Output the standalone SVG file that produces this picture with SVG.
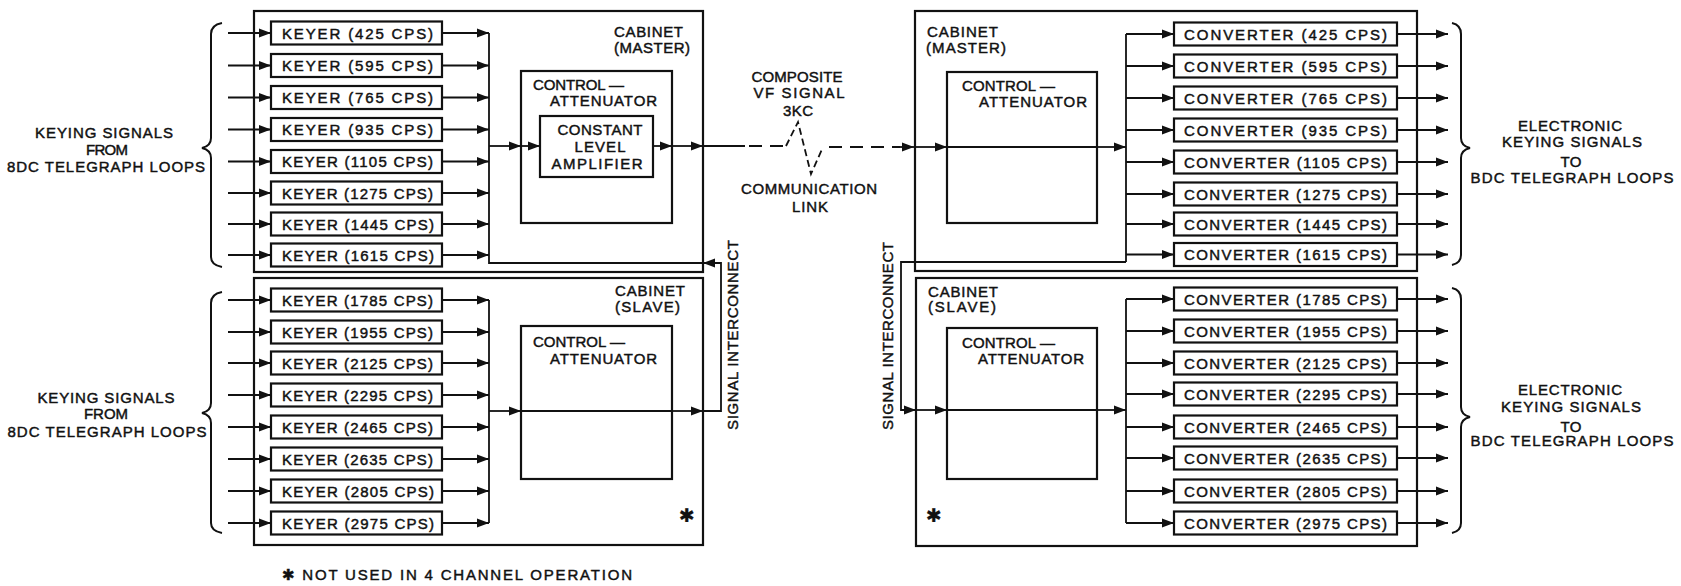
<svg xmlns="http://www.w3.org/2000/svg" width="1681" height="586" viewBox="0 0 1681 586">
<style>
text{font-family:"Liberation Sans","DejaVu Sans",sans-serif;font-size:15px;fill:#111;stroke:#111;stroke-width:0.45;}
.box{fill:#fff;stroke:#111;stroke-width:2.2;}
.cab{fill:none;stroke:#111;stroke-width:2.2;}
.ln{fill:none;stroke:#111;stroke-width:1.8;}
.ar{fill:none;stroke:#111;stroke-width:1.8;marker-end:url(#ah);}
.dash{fill:none;stroke:#111;stroke-width:1.8;stroke-dasharray:13 8;}
.wave{fill:none;stroke:#111;stroke-width:1.8;stroke-dasharray:7 4;}
.br{fill:none;stroke:#111;stroke-width:2;}
.m{text-anchor:middle;}
.ast{font-size:19px;stroke-width:0.2;}
</style>
<defs>
<marker id="ah" markerUnits="userSpaceOnUse" markerWidth="12" markerHeight="10" refX="12" refY="5" orient="auto">
<path d="M0,0.5 L12,5 L0,9.5 z" fill="#111"/>
</marker>
</defs>
<rect width="1681" height="586" fill="#fff"/>

<!-- cabinets -->
<g id="cabinet-left-master">
<rect class="cab" x="254" y="11" width="449" height="261"/>
<text x="614" y="37" textLength="69">CABINET</text>
<text x="614" y="53" textLength="76">(MASTER)</text>
</g>
<g id="cabinet-left-slave">
<rect class="cab" x="254" y="278" width="449" height="267"/>
<text x="615" y="296" textLength="70">CABINET</text>
<text x="615" y="312" textLength="65">(SLAVE)</text>
<text x="687" y="522" class="m ast">✱</text>
</g>
<g id="cabinet-right-master">
<rect class="cab" x="915" y="11" width="502" height="260"/>
<text x="927" y="37" textLength="71">CABINET</text>
<text x="926" y="53" textLength="80">(MASTER)</text>
</g>
<g id="cabinet-right-slave">
<rect class="cab" x="916" y="278" width="501" height="268"/>
<text x="928" y="297" textLength="70">CABINET</text>
<text x="928" y="312" textLength="68">(SLAVE)</text>
<text x="934" y="522" class="m ast">✱</text>
</g>

<!-- control attenuators -->
<g id="ca-left-master">
<rect class="box" x="521" y="71" width="151" height="152"/>
<text x="533" y="90" textLength="91">CONTROL —</text>
<text x="550" y="106" textLength="107">ATTENUATOR</text>
</g>
<g id="cla-left-master">
<rect class="box" x="540" y="116" width="113" height="61"/>
<text x="600" y="135" class="m" textLength="85">CONSTANT</text>
<text x="600" y="152" class="m" textLength="51">LEVEL</text>
<text x="597" y="169" class="m" textLength="91">AMPLIFIER</text>
</g>
<g id="ca-left-slave">
<rect class="box" x="521" y="326" width="151" height="153"/>
<text x="533" y="347" textLength="92">CONTROL —</text>
<text x="550" y="364" textLength="107">ATTENUATOR</text>
</g>
<g id="ca-right-master">
<rect class="box" x="947" y="72" width="150" height="151"/>
<text x="962" y="91" textLength="93">CONTROL —</text>
<text x="979" y="107" textLength="108">ATTENUATOR</text>
</g>
<g id="ca-right-slave">
<rect class="box" x="947" y="328" width="150" height="151"/>
<text x="962" y="348" textLength="93">CONTROL —</text>
<text x="978" y="364" textLength="106">ATTENUATOR</text>
</g>

<!-- keyers master -->
<g id="keyer-425"><rect class="box" x="271" y="21.5" width="171" height="23"/><text x="282" y="38.5" textLength="151">KEYER (425  CPS)</text></g>
<g id="keyer-595"><rect class="box" x="271" y="54" width="171" height="23"/><text x="282" y="71" textLength="151">KEYER (595  CPS)</text></g>
<g id="keyer-765"><rect class="box" x="271" y="86" width="171" height="23"/><text x="282" y="103" textLength="151">KEYER (765  CPS)</text></g>
<g id="keyer-935"><rect class="box" x="271" y="118" width="171" height="23"/><text x="282" y="135" textLength="151">KEYER (935  CPS)</text></g>
<g id="keyer-1105"><rect class="box" x="271" y="150" width="171" height="23"/><text x="282" y="167" textLength="151">KEYER (1105  CPS)</text></g>
<g id="keyer-1275"><rect class="box" x="271" y="181.5" width="171" height="23"/><text x="282" y="198.5" textLength="151">KEYER (1275  CPS)</text></g>
<g id="keyer-1445"><rect class="box" x="271" y="212.5" width="171" height="23"/><text x="282" y="229.5" textLength="152">KEYER (1445 CPS)</text></g>
<g id="keyer-1615"><rect class="box" x="271" y="243.5" width="171" height="23"/><text x="282" y="260.5" textLength="152">KEYER (1615  CPS)</text></g>
<!-- keyers slave -->
<g id="keyer-1785"><rect class="box" x="271" y="288.5" width="171" height="23"/><text x="282" y="305.5" textLength="151">KEYER (1785  CPS)</text></g>
<g id="keyer-1955"><rect class="box" x="271" y="320.5" width="171" height="23"/><text x="282" y="337.5" textLength="151">KEYER (1955  CPS)</text></g>
<g id="keyer-2125"><rect class="box" x="271" y="351.5" width="171" height="23"/><text x="282" y="368.5" textLength="151">KEYER (2125  CPS)</text></g>
<g id="keyer-2295"><rect class="box" x="271" y="383.5" width="171" height="23"/><text x="282" y="400.5" textLength="151">KEYER (2295 CPS)</text></g>
<g id="keyer-2465"><rect class="box" x="271" y="415.5" width="171" height="23"/><text x="282" y="432.5" textLength="151">KEYER (2465 CPS)</text></g>
<g id="keyer-2635"><rect class="box" x="271" y="447.5" width="171" height="23"/><text x="282" y="464.5" textLength="151">KEYER (2635 CPS)</text></g>
<g id="keyer-2805"><rect class="box" x="271" y="479.5" width="171" height="23"/><text x="282" y="496.5" textLength="152">KEYER (2805 CPS)</text></g>
<g id="keyer-2975"><rect class="box" x="271" y="511.5" width="171" height="23"/><text x="282" y="528.5" textLength="152">KEYER (2975 CPS)</text></g>

<!-- converters master -->
<g id="conv-425"><rect class="box" x="1174" y="22.5" width="223" height="23"/><text x="1184" y="39.5" textLength="203">CONVERTER (425  CPS)</text></g>
<g id="conv-595"><rect class="box" x="1174" y="54.5" width="223" height="23"/><text x="1184" y="71.5" textLength="203">CONVERTER (595  CPS)</text></g>
<g id="conv-765"><rect class="box" x="1174" y="86.5" width="223" height="23"/><text x="1184" y="103.5" textLength="203">CONVERTER (765  CPS)</text></g>
<g id="conv-935"><rect class="box" x="1174" y="118.5" width="223" height="23"/><text x="1184" y="135.5" textLength="203">CONVERTER (935  CPS)</text></g>
<g id="conv-1105"><rect class="box" x="1174" y="150.5" width="223" height="23"/><text x="1184" y="167.5" textLength="203">CONVERTER (1105  CPS)</text></g>
<g id="conv-1275"><rect class="box" x="1174" y="182.5" width="223" height="23"/><text x="1184" y="199.5" textLength="203">CONVERTER (1275  CPS)</text></g>
<g id="conv-1445"><rect class="box" x="1174" y="212.5" width="223" height="23"/><text x="1184" y="229.5" textLength="203">CONVERTER (1445 CPS)</text></g>
<g id="conv-1615"><rect class="box" x="1174" y="243" width="223" height="23"/><text x="1184" y="260" textLength="203">CONVERTER (1615  CPS)</text></g>
<!-- converters slave -->
<g id="conv-1785"><rect class="box" x="1174" y="287.5" width="223" height="23"/><text x="1184" y="304.5" textLength="203">CONVERTER (1785  CPS)</text></g>
<g id="conv-1955"><rect class="box" x="1174" y="319.5" width="223" height="23"/><text x="1184" y="336.5" textLength="203">CONVERTER (1955  CPS)</text></g>
<g id="conv-2125"><rect class="box" x="1174" y="351.5" width="223" height="23"/><text x="1184" y="368.5" textLength="203">CONVERTER (2125 CPS)</text></g>
<g id="conv-2295"><rect class="box" x="1174" y="382.5" width="223" height="23"/><text x="1184" y="399.5" textLength="203">CONVERTER (2295 CPS)</text></g>
<g id="conv-2465"><rect class="box" x="1174" y="415.5" width="223" height="23"/><text x="1184" y="432.5" textLength="203">CONVERTER (2465 CPS)</text></g>
<g id="conv-2635"><rect class="box" x="1174" y="446.5" width="223" height="23"/><text x="1184" y="463.5" textLength="203">CONVERTER (2635 CPS)</text></g>
<g id="conv-2805"><rect class="box" x="1174" y="479.5" width="223" height="23"/><text x="1184" y="496.5" textLength="203">CONVERTER (2805 CPS)</text></g>
<g id="conv-2975"><rect class="box" x="1174" y="511.5" width="223" height="23"/><text x="1184" y="528.5" textLength="203">CONVERTER (2975 CPS)</text></g>

<!-- side labels -->
<g id="label-in-top">
<path class="br" d="M222,23 Q211,25 211,34 V138 Q211,146 202,148 Q211,150 211,158 V257 Q211,265 222,267"/>
<text x="104" y="138" class="m" textLength="138">KEYING SIGNALS</text>
<text x="107" y="155" class="m" textLength="42">FROM</text>
<text x="106" y="172" class="m" textLength="198">8DC TELEGRAPH LOOPS</text>
</g>
<g id="label-in-bottom">
<path class="br" d="M222,292 Q211,294 211,303 V403 Q211,411 202,413 Q211,415 211,423 V523 Q211,531 222,533"/>
<text x="106" y="403" class="m" textLength="137">KEYING SIGNALS</text>
<text x="106" y="419" class="m" textLength="44">FROM</text>
<text x="107" y="437" class="m" textLength="199">8DC TELEGRAPH LOOPS</text>
</g>
<g id="label-out-top">
<path class="br" d="M1452,23 Q1461,25 1461,34 V138 Q1461,146 1470,148 Q1461,150 1461,158 V255 Q1461,263 1452,265"/>
<text x="1570" y="131" class="m" textLength="104">ELECTRONIC</text>
<text x="1572" y="147" class="m" textLength="140">KEYING SIGNALS</text>
<text x="1571" y="167" class="m" textLength="21">TO</text>
<text x="1572" y="183" class="m" textLength="203">BDC TELEGRAPH LOOPS</text>
</g>
<g id="label-out-bottom">
<path class="br" d="M1452,288 Q1461,290 1461,299 V407 Q1461,415 1470,417 Q1461,419 1461,427 V523 Q1461,531 1452,533"/>
<text x="1570" y="395" class="m" textLength="104">ELECTRONIC</text>
<text x="1571" y="412" class="m" textLength="140">KEYING SIGNALS</text>
<text x="1571" y="432" class="m" textLength="21">TO</text>
<text x="1572" y="446" class="m" textLength="203">BDC TELEGRAPH LOOPS</text>
</g>
<g id="label-link">
<text x="797" y="82" class="m" textLength="91">COMPOSITE</text>
<text x="799" y="98" class="m" textLength="91">VF SIGNAL</text>
<text x="798" y="116" class="m" textLength="30">3KC</text>
<text x="809" y="194" class="m" textLength="136">COMMUNICATION</text>
<text x="810" y="212" class="m" textLength="36">LINK</text>
</g>
<g id="label-interconnect-left">
<text class="m" transform="translate(738,335) rotate(-90)" textLength="190">SIGNAL INTERCONNECT</text>
</g>
<g id="label-interconnect-right">
<text class="m" transform="translate(893,336) rotate(-90)" textLength="188">SIGNAL INTERCONNECT</text>
</g>
<g id="footnote">
<text x="282" y="580" textLength="350">✱ NOT USED IN 4 CHANNEL OPERATION</text>
</g>

<!-- connectors -->
<g id="connectors">
<!-- left master inputs/outputs -->
<path class="ar" d="M228,33H271"/><path class="ar" d="M228,65.5H271"/><path class="ar" d="M228,97.5H271"/><path class="ar" d="M228,129.5H271"/>
<path class="ar" d="M228,161.5H271"/><path class="ar" d="M228,193H271"/><path class="ar" d="M228,224H271"/><path class="ar" d="M228,255H271"/>
<path class="ar" d="M442,33H489"/><path class="ar" d="M442,65.5H489"/><path class="ar" d="M442,97.5H489"/><path class="ar" d="M442,129.5H489"/>
<path class="ar" d="M442,161.5H489"/><path class="ar" d="M442,193H489"/><path class="ar" d="M442,224H489"/><path class="ar" d="M442,255H489"/>
<path class="ln" d="M489,33V263H703"/>
<path class="ar" d="M489,146H521"/>
<path class="ar" d="M521,146H540"/>
<path class="ar" d="M653,146H672"/>
<path class="ar" d="M672,146H703"/>
<!-- left slave -->
<path class="ar" d="M228,300H271"/><path class="ar" d="M228,332H271"/><path class="ar" d="M228,363H271"/><path class="ar" d="M228,395H271"/>
<path class="ar" d="M228,427H271"/><path class="ar" d="M228,459H271"/><path class="ar" d="M228,491H271"/><path class="ar" d="M228,523H271"/>
<path class="ar" d="M442,300H489"/><path class="ar" d="M442,332H489"/><path class="ar" d="M442,363H489"/><path class="ar" d="M442,395H489"/>
<path class="ar" d="M442,427H489"/><path class="ar" d="M442,459H489"/><path class="ar" d="M442,491H489"/><path class="ar" d="M442,523H489"/>
<path class="ln" d="M489,300V523"/>
<path class="ar" d="M489,411H521"/>
<path class="ln" d="M521,411H672"/>
<path class="ar" d="M672,411H703"/>
<path class="ar" d="M703,411H721V263H703"/>
<!-- communication link -->
<path class="ln" d="M703,146H745"/>
<path class="dash" d="M749,146H786"/>
<path class="wave" d="M786,146L798,122L811,174L823,147"/>
<path class="dash" d="M829,147H900"/>
<path class="ar" d="M898,147H914"/>
<!-- right master -->
<path class="ar" d="M915,147H947"/>
<path class="ln" d="M947,147H1097"/>
<path class="ar" d="M1097,147H1126"/>
<path class="ln" d="M1126,34V262"/>
<path class="ar" d="M1126,262H901V410H916"/>
<path class="ar" d="M1126,34H1174"/><path class="ar" d="M1126,66H1174"/><path class="ar" d="M1126,98H1174"/><path class="ar" d="M1126,130H1174"/>
<path class="ar" d="M1126,162H1174"/><path class="ar" d="M1126,194H1174"/><path class="ar" d="M1126,224H1174"/><path class="ar" d="M1126,254.5H1174"/>
<path class="ar" d="M1397,34H1448"/><path class="ar" d="M1397,66H1448"/><path class="ar" d="M1397,98H1448"/><path class="ar" d="M1397,130H1448"/>
<path class="ar" d="M1397,162H1448"/><path class="ar" d="M1397,194H1448"/><path class="ar" d="M1397,224H1448"/><path class="ar" d="M1397,254.5H1448"/>
<!-- right slave -->
<path class="ar" d="M916,410H947"/>
<path class="ln" d="M947,410H1097"/>
<path class="ar" d="M1097,410H1126"/>
<path class="ln" d="M1126,299V523"/>
<path class="ar" d="M1126,299H1174"/><path class="ar" d="M1126,331H1174"/><path class="ar" d="M1126,363H1174"/><path class="ar" d="M1126,394H1174"/>
<path class="ar" d="M1126,427H1174"/><path class="ar" d="M1126,458H1174"/><path class="ar" d="M1126,491H1174"/><path class="ar" d="M1126,523H1174"/>
<path class="ar" d="M1397,299H1448"/><path class="ar" d="M1397,331H1448"/><path class="ar" d="M1397,363H1448"/><path class="ar" d="M1397,394H1448"/>
<path class="ar" d="M1397,427H1448"/><path class="ar" d="M1397,458H1448"/><path class="ar" d="M1397,491H1448"/><path class="ar" d="M1397,523H1448"/>
</g>
</svg>
